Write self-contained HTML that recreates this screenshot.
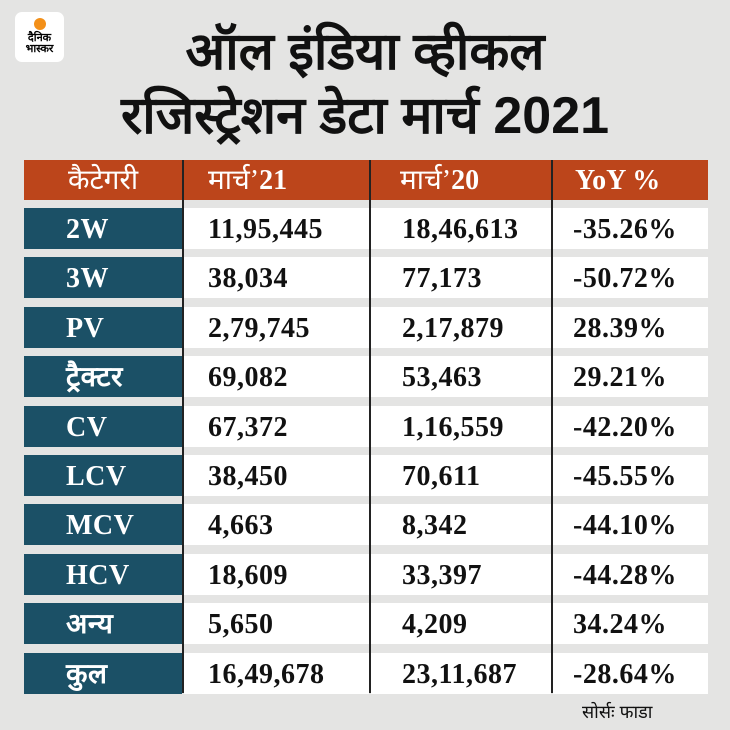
<!DOCTYPE html>
<html><head><meta charset="utf-8"><style>
body{margin:0;width:730px;height:730px;background:#e4e4e3;position:relative;overflow:hidden;font-family:"Liberation Serif",serif;}
.logo{position:absolute;left:15px;top:12px;width:49px;height:50px;background:#fff;border-radius:7px;text-align:center;font:bold 11px "Liberation Sans","Noto Sans CJK SC",sans-serif;line-height:11px;}
.logo .dot{width:12px;height:12px;border-radius:50%;background:#f39019;margin:6px auto 3px;}
.title{position:absolute;left:0;width:730px;text-align:center;font:bold 52px "Liberation Sans",sans-serif;color:#111;white-space:nowrap;}
.hdr{position:absolute;left:24px;top:160px;width:684px;height:40px;background:#bc451b;}
.cell{position:absolute;height:41px;line-height:44px;font-weight:bold;font-size:28px;color:#111;box-sizing:border-box;padding-left:22px;white-space:nowrap;letter-spacing:0.5px;}
.c1{background:#1b5066;color:#fff;left:24px;width:158px;padding-left:42px;}
.c2{background:#fff;left:184px;width:185px;padding-left:24px;}
.c3{background:#fff;left:371px;width:180px;padding-left:31px;}
.c4{background:#fff;left:553px;width:155px;padding-left:20px;}
.h{position:absolute;top:160px;height:40px;line-height:42px;color:#fff;font-size:28px;}
.vl{position:absolute;top:160px;height:533px;width:1.5px;background:#222;}
.src{position:absolute;left:582px;top:700px;font:18px "Liberation Sans",sans-serif;color:#111;}
</style></head><body>
<div class="logo"><div class="dot"></div>दैनिक<br>भास्कर</div>
<div class="title" style="top:14px">ऑल इंडिया व्हीकल</div>
<div class="title" style="top:78px">रजिस्ट्रेशन डेटा मार्च 2021</div>
<div class="hdr"></div>
<div class="h" style="left:68px">कैटेगरी</div>
<div class="h" style="left:208px">मार्च’<b>21</b></div>
<div class="h" style="left:400px">मार्च’<b>20</b></div>
<div class="h" style="left:575px"><b>YoY %</b></div>
<div id="rows"></div>
<div class="vl" style="left:182px"></div>
<div class="vl" style="left:369px"></div>
<div class="vl" style="left:551px"></div>
<div class="src">सोर्सः फाडा</div>
<script>
var d=[["2W","11,95,445","18,46,613","-35.26%"],["3W","38,034","77,173","-50.72%"],["PV","2,79,745","2,17,879","28.39%"],["ट्रैक्टर","69,082","53,463","29.21%"],["CV","67,372","1,16,559","-42.20%"],["LCV","38,450","70,611","-45.55%"],["MCV","4,663","8,342","-44.10%"],["HCV","18,609","33,397","-44.28%"],["अन्य","5,650","4,209","34.24%"],["कुल","16,49,678","23,11,687","-28.64%"]];
var h="";d.forEach(function(r,i){var t=208+i*49.4;for(var j=0;j<4;j++){h+='<div class="cell c'+(j+1)+'" style="top:'+t+'px">'+r[j]+'</div>';}});
document.getElementById("rows").innerHTML=h;
</script>
</body></html>
